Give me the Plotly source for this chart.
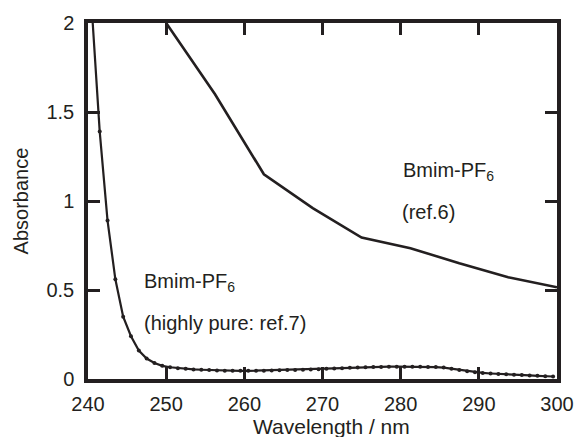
import plotly.graph_objects as go

# Bmim-PF6 (ref.6)
ref6_wavelength = [250, 256.25, 262.5, 268.75, 275, 281.25, 287.5, 293.75, 300]
ref6_absorbance = [2.0, 1.6, 1.15, 0.96, 0.795, 0.735, 0.65, 0.572, 0.515]

# Bmim-PF6 (highly pure: ref.7)
pure_wavelength = [240.5 + k for k in range(60)]
pure_absorbance = [
    2.07, 1.39, 0.89, 0.56, 0.35, 0.24, 0.16, 0.115, 0.09, 0.074,
    0.066, 0.061, 0.057, 0.054, 0.052, 0.05, 0.048, 0.047, 0.046, 0.046,
    0.046, 0.047, 0.047, 0.048, 0.049, 0.05, 0.051, 0.052, 0.054, 0.055,
    0.057, 0.059, 0.061, 0.063, 0.065, 0.066, 0.067, 0.068, 0.069, 0.069,
    0.069, 0.069, 0.069, 0.068, 0.067, 0.064, 0.058, 0.051, 0.044, 0.038,
    0.034, 0.031, 0.028, 0.026, 0.024, 0.022, 0.02, 0.018, 0.016, 0.014,
]

x_ticks = [240, 250, 260, 270, 280, 290, 300]
y_ticks = [0, 0.5, 1, 1.5, 2]
y_tick_text = ["0", "0.5", "1", "1.5", "2"]

INK = "#231f20"
FONT = "Liberation Sans, Arial, sans-serif"

fig = go.Figure()
fig.add_trace(go.Scatter(
    x=ref6_wavelength, y=ref6_absorbance, mode="lines",
    line=dict(color=INK, width=2.6), showlegend=False,
))
fig.add_trace(go.Scatter(
    x=pure_wavelength, y=pure_absorbance, mode="lines+markers",
    line=dict(color=INK, width=2.2), marker=dict(color=INK, size=4),
    showlegend=False,
))

axis_common = dict(
    showline=True, linecolor=INK, linewidth=3.5, mirror="ticks",
    ticks="inside", ticklen=12, tickwidth=3, tickcolor=INK,
    showgrid=False, zeroline=False,
    tickfont=dict(family=FONT, size=20, color=INK),
)

fig.update_xaxes(range=[240, 300], tickvals=x_ticks, ticklabelstandoff=4, **axis_common)
fig.update_yaxes(range=[0, 2], tickvals=y_ticks, ticktext=y_tick_text,
                 ticklabelstandoff=6, **axis_common)

ann_font = dict(family=FONT, size=20, color=INK)
annotations = [
    dict(x=280, y=1.163, text="Bmim-PF<sub>6</sub>"),
    dict(x=279.9, y=0.94, text="(ref.6)"),
    dict(x=246.9, y=0.54, text="Bmim-PF<sub>6</sub>"),
    dict(x=246.9, y=0.315, text="(highly pure: ref.7)"),
]
for a in annotations:
    fig.add_annotation(xref="x", yref="y", xanchor="left", yanchor="middle",
                       showarrow=False, font=ann_font, **a)

fig.add_annotation(xref="paper", yref="paper", x=(337 - 88) / 479, y=-(427 - 379) / 356,
                   xanchor="center", yanchor="middle", showarrow=False,
                   text="Wavelength / nm", font=dict(family=FONT, size=21, color=INK))
fig.add_annotation(xref="paper", yref="paper", x=-(88 - 20) / 479, y=0.5,
                   xanchor="center", yanchor="middle", showarrow=False, textangle=-90,
                   text="Absorbance", font=dict(family=FONT, size=20, color=INK))

fig.update_layout(
    width=586, height=437,
    margin=dict(l=88, r=19, t=23, b=58),
    paper_bgcolor="white", plot_bgcolor="white",
)

fig.write_html(
    "out.html",
    config={"displayModeBar": False},
    post_script="document.body.style.margin='0';document.body.style.overflow='hidden';",
)
